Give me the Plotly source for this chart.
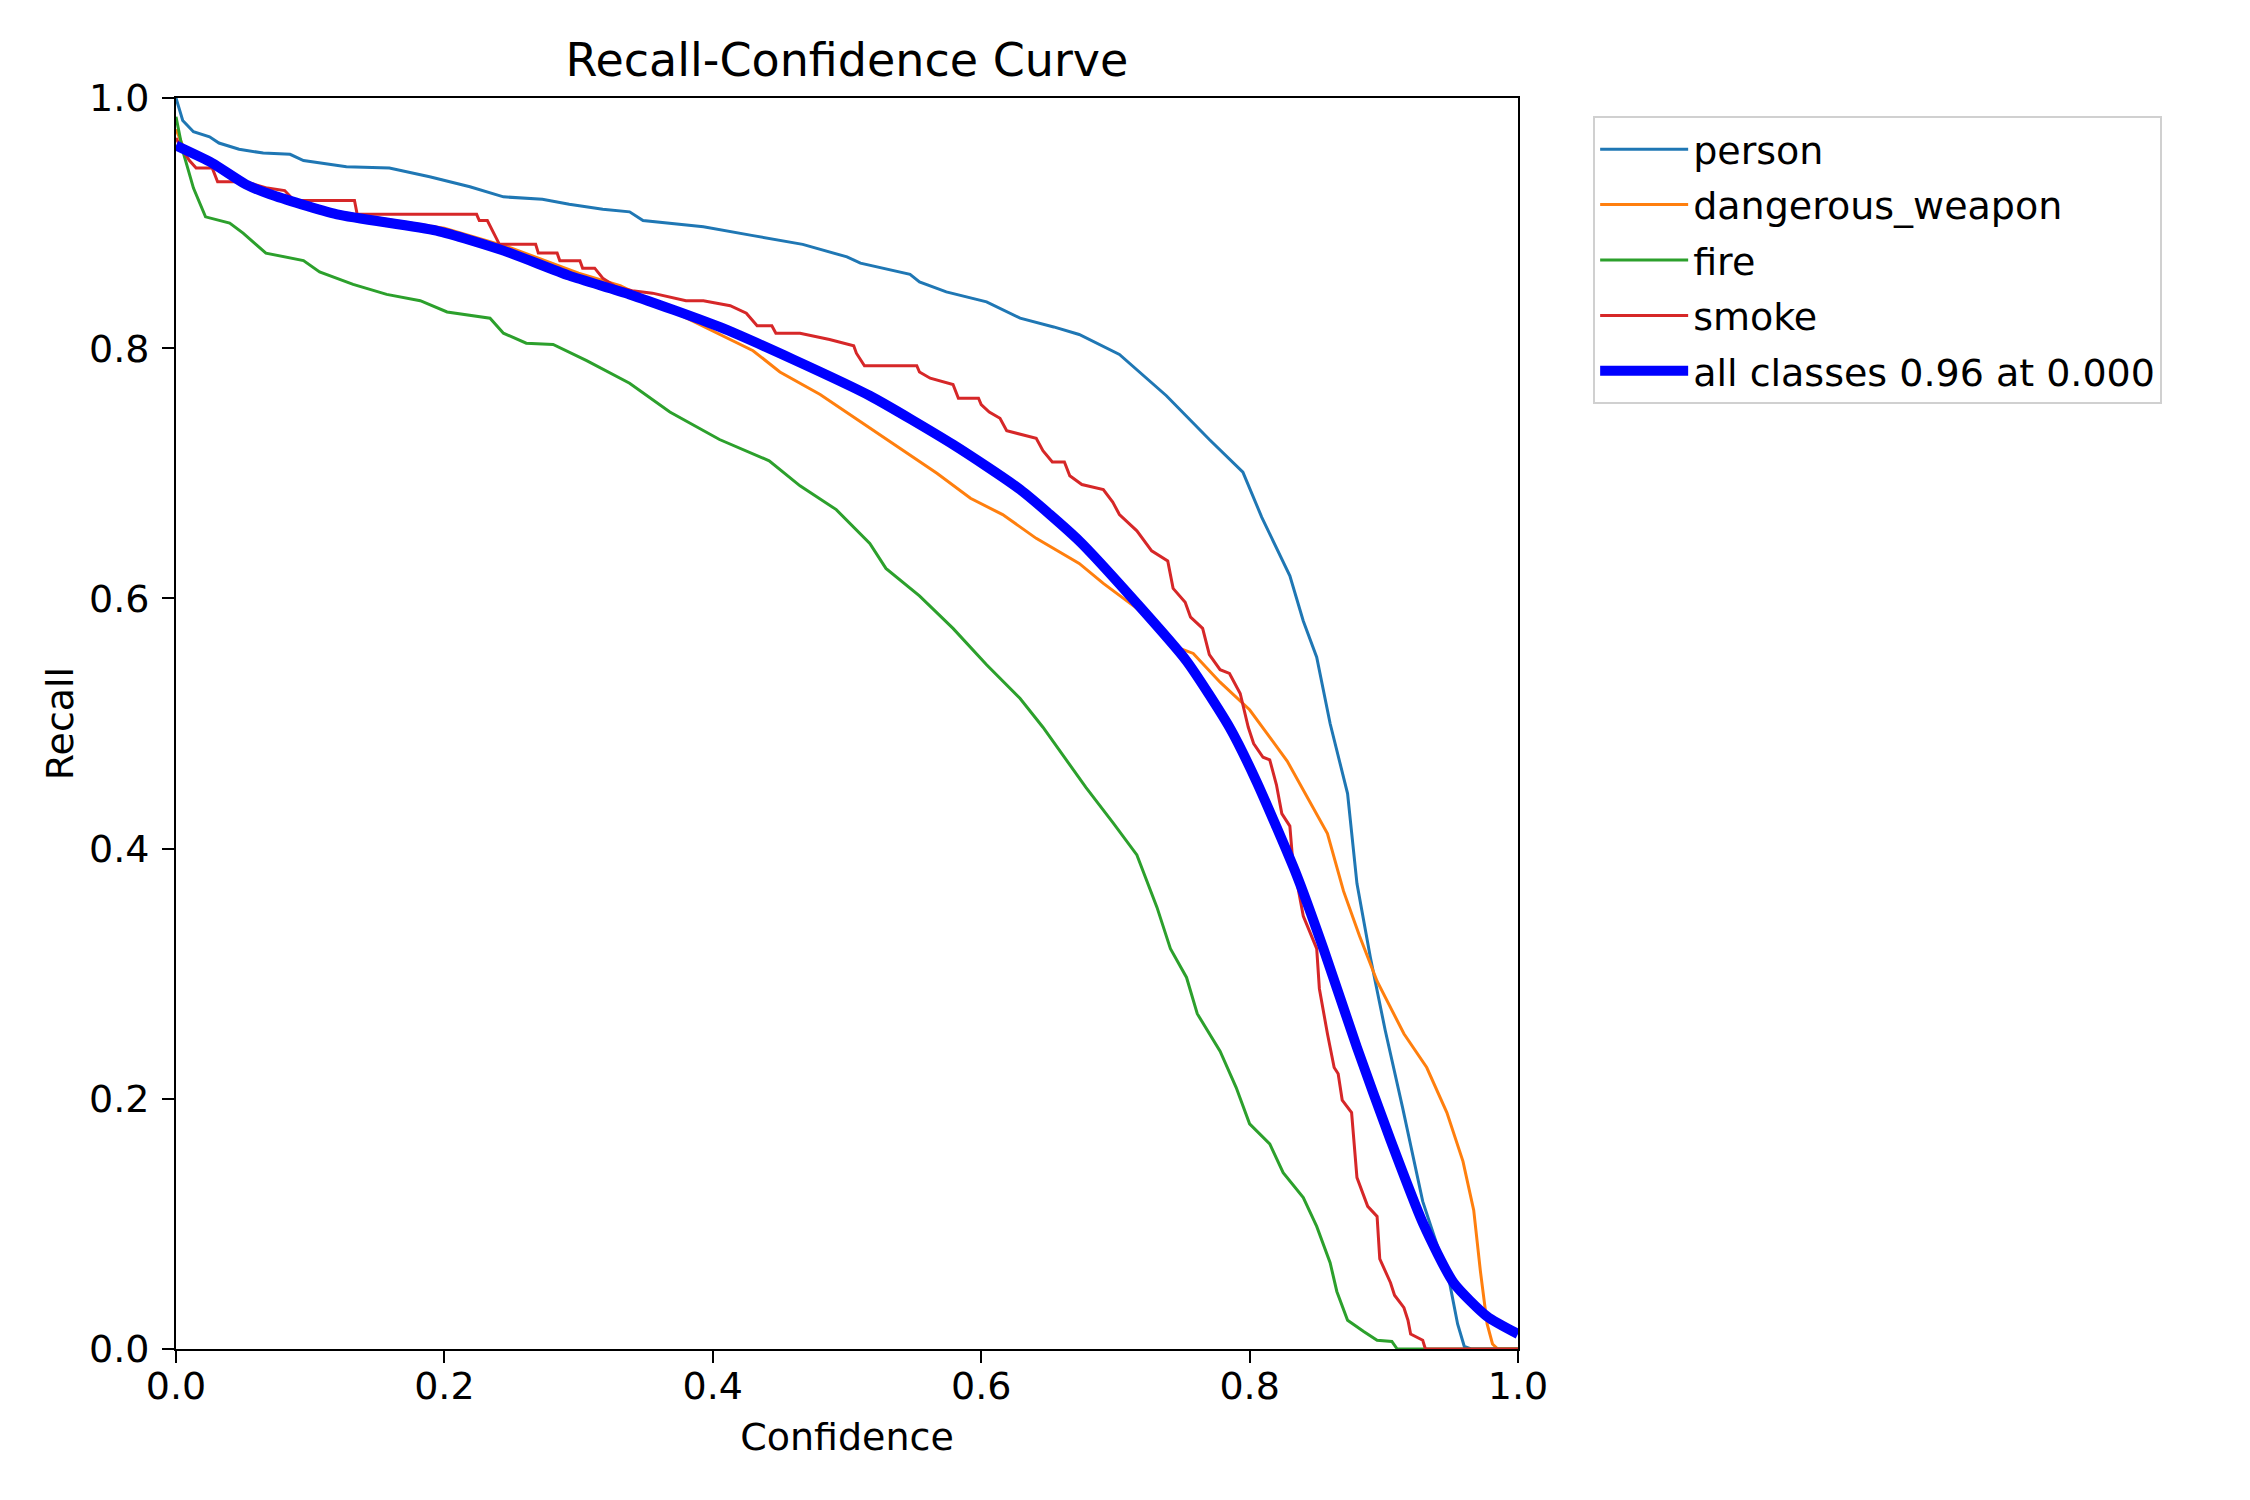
import plotly.graph_objects as go

# ---------------- data ----------------
person_conf = [0.0, 0.002, 0.005, 0.013, 0.025, 0.032, 0.047, 0.065, 0.085, 0.095, 0.127, 0.159,
               0.189, 0.219, 0.244, 0.273, 0.293, 0.318, 0.338, 0.348, 0.393, 0.430, 0.467, 0.500,
               0.510, 0.547, 0.554, 0.574, 0.604, 0.629, 0.654, 0.673, 0.703, 0.738, 0.770, 0.795,
               0.809, 0.830, 0.840, 0.850, 0.860, 0.873, 0.880, 0.890, 0.901, 0.914, 0.929, 0.949,
               0.955, 0.960, 0.965, 1.0]
person_recall = [1.0, 0.992, 0.982, 0.973, 0.969, 0.964, 0.959, 0.956, 0.955, 0.950, 0.945, 0.944,
                 0.937, 0.929, 0.921, 0.919, 0.915, 0.911, 0.909, 0.902, 0.897, 0.890, 0.883, 0.873,
                 0.868, 0.859, 0.853, 0.845, 0.837, 0.824, 0.817, 0.811, 0.795, 0.762, 0.727, 0.701,
                 0.665, 0.618, 0.582, 0.553, 0.500, 0.444, 0.372, 0.313, 0.255, 0.193, 0.118, 0.053,
                 0.020, 0.002, 0.0, 0.0]

weapon_conf = [0.0, 0.005, 0.01, 0.03, 0.05, 0.08, 0.12, 0.2, 0.25, 0.3, 0.331, 0.400, 0.430, 0.450,
               0.480, 0.509, 0.542, 0.567, 0.592, 0.616, 0.641, 0.673, 0.691, 0.716, 0.748, 0.758,
               0.778, 0.800, 0.828, 0.845, 0.858, 0.870, 0.882, 0.895, 0.915, 0.932, 0.947, 0.959,
               0.967, 0.972, 0.977, 0.981, 0.985, 1.0]
weapon_recall = [0.975, 0.962, 0.955, 0.945, 0.933, 0.919, 0.909, 0.896, 0.880, 0.860, 0.850, 0.814,
                 0.798, 0.781, 0.763, 0.742, 0.718, 0.700, 0.680, 0.667, 0.648, 0.628, 0.612, 0.592,
                 0.560, 0.556, 0.533, 0.511, 0.470, 0.437, 0.412, 0.366, 0.330, 0.294, 0.252, 0.225,
                 0.189, 0.150, 0.111, 0.062, 0.020, 0.004, 0.0, 0.0]

fire_conf = [0.0, 0.005, 0.013, 0.022, 0.040, 0.050, 0.067, 0.095, 0.107, 0.132, 0.157, 0.182, 0.202,
             0.234, 0.244, 0.261, 0.281, 0.306, 0.338, 0.368, 0.405, 0.442, 0.465, 0.492, 0.517,
             0.529, 0.554, 0.579, 0.604, 0.629, 0.646, 0.678, 0.698, 0.716, 0.731, 0.741, 0.753,
             0.761, 0.778, 0.790, 0.800, 0.815, 0.825, 0.840, 0.850, 0.860, 0.865, 0.873, 0.885,
             0.895, 0.906, 0.910, 1.0]
fire_recall = [0.985, 0.958, 0.928, 0.905, 0.900, 0.892, 0.876, 0.870, 0.861, 0.851, 0.843, 0.838,
               0.829, 0.824, 0.812, 0.804, 0.803, 0.790, 0.772, 0.749, 0.727, 0.710, 0.690, 0.671,
               0.644, 0.624, 0.602, 0.576, 0.547, 0.520, 0.497, 0.449, 0.421, 0.395, 0.353, 0.320,
               0.297, 0.268, 0.238, 0.209, 0.180, 0.164, 0.141, 0.121, 0.098, 0.069, 0.046, 0.023,
               0.014, 0.007, 0.006, 0.0, 0.0]

smoke_conf = [0.0, 0.005, 0.010, 0.015, 0.027, 0.031, 0.052, 0.068, 0.081, 0.088, 0.133, 0.135,
              0.224, 0.226, 0.232, 0.241, 0.268, 0.270, 0.284, 0.286, 0.301, 0.303, 0.312, 0.318,
              0.328, 0.340, 0.355, 0.380, 0.393, 0.413, 0.425, 0.433, 0.444, 0.447, 0.465, 0.487,
              0.505, 0.507, 0.513, 0.552, 0.554, 0.562, 0.579, 0.583, 0.598, 0.600, 0.606, 0.614,
              0.619, 0.641, 0.646, 0.653, 0.662, 0.666, 0.675, 0.691, 0.698, 0.703, 0.716, 0.727,
              0.739, 0.743, 0.752, 0.756, 0.765, 0.770, 0.778, 0.785, 0.793, 0.799, 0.803, 0.810,
              0.815, 0.820, 0.824, 0.830, 0.832, 0.840, 0.850, 0.852, 0.858, 0.863, 0.866, 0.869,
              0.876, 0.880, 0.888, 0.895, 0.897, 0.905, 0.908, 0.915, 0.918, 0.920, 0.929, 0.931, 1.0]
smoke_recall = [0.968, 0.958, 0.950, 0.944, 0.944, 0.933, 0.933, 0.928, 0.926, 0.918, 0.918, 0.907,
                0.907, 0.902, 0.902, 0.883, 0.883, 0.876, 0.876, 0.870, 0.870, 0.864, 0.864, 0.856,
                0.849, 0.846, 0.844, 0.838, 0.838, 0.834, 0.828, 0.818, 0.818, 0.812, 0.812, 0.807,
                0.802, 0.796, 0.786, 0.786, 0.781, 0.776, 0.771, 0.760, 0.760, 0.755, 0.749, 0.744,
                0.734, 0.728, 0.718, 0.709, 0.709, 0.698, 0.691, 0.687, 0.677, 0.667, 0.654, 0.638,
                0.630, 0.608, 0.597, 0.585, 0.576, 0.555, 0.543, 0.540, 0.524, 0.497, 0.484, 0.473,
                0.471, 0.451, 0.428, 0.418, 0.392, 0.346, 0.320, 0.288, 0.252, 0.225, 0.220, 0.199,
                0.189, 0.137, 0.114, 0.106, 0.072, 0.053, 0.043, 0.033, 0.023, 0.012, 0.007, 0.0, 0.0]

all_conf = [0.0, 0.027, 0.052, 0.07, 0.12, 0.194, 0.244, 0.293, 0.338, 0.405, 0.460, 0.517, 0.579,
            0.629, 0.673, 0.716, 0.753, 0.785, 0.805, 0.835, 0.855, 0.880, 0.905, 0.929, 0.952,
            0.977, 1.0]
all_recall = [0.962, 0.948, 0.931, 0.923, 0.907, 0.894, 0.878, 0.858, 0.843, 0.817, 0.791, 0.762,
              0.723, 0.687, 0.646, 0.596, 0.550, 0.497, 0.454, 0.379, 0.320, 0.241, 0.167, 0.101,
              0.053, 0.026, 0.012]

series_names = ["person", "dangerous_weapon", "fire", "smoke"]
all_label = "all classes 0.96 at 0.000"
tick_vals = [0.0, 0.2, 0.4, 0.6, 0.8, 1.0]
tick_text = ["0.0", "0.2", "0.4", "0.6", "0.8", "1.0"]

# ---------------- figure ----------------
colors = ["#1f77b4", "#ff7f0e", "#2ca02c", "#d62728"]
xs = [person_conf, weapon_conf, fire_conf, smoke_conf]
ys = [person_recall, weapon_recall, fire_recall, smoke_recall]

FS = 38

fig = go.Figure()
for name, x, y, c in zip(series_names, xs, ys, colors):
    fig.add_trace(go.Scatter(x=x, y=y, mode="lines", name=name, legendgroup=name,
                             line=dict(color=c, width=3)))
fig.add_trace(go.Scatter(x=all_conf, y=all_recall, mode="lines", name=all_label,
                         legendgroup="all",
                         line=dict(color="#0000ff", width=10, shape="spline", smoothing=0.6)))

axis_common = dict(
    range=[0, 1], tickvals=tick_vals, ticktext=tick_text,
    ticks="outside", ticklen=12, tickwidth=2, tickcolor="black",
    showline=True, linecolor="black", linewidth=2, mirror=True,
    showgrid=False, zeroline=False,
    tickfont=dict(size=FS, color="black"),
)
fig.update_xaxes(**axis_common, ticklabelstandoff=-10,
                 title=dict(text="Confidence", font=dict(size=FS), standoff=17))
fig.update_yaxes(**axis_common, ticklabelstandoff=5,
                 title=dict(text="Recall", font=dict(size=FS), standoff=4))

fig.update_layout(
    width=2250, height=1500,
    margin=dict(l=176, r=732, t=98, b=151),
    plot_bgcolor="white", paper_bgcolor="white",
    font=dict(family="DejaVu Sans", size=FS, color="black"),
    title=dict(text="Recall-Confidence Curve", font=dict(size=46), x=0.5, xref="paper",
               xanchor="center", y=1 - 60 / 1500, yref="container", yanchor="middle"),
    legend=dict(x=1.056, y=0.9856, xanchor="left", yanchor="top",
                bordercolor="#d0d0d0", borderwidth=2, bgcolor="white",
                font=dict(size=FS), itemwidth=88, tracegroupgap=3),
    showlegend=True,
)

fig.write_html("out.html")
